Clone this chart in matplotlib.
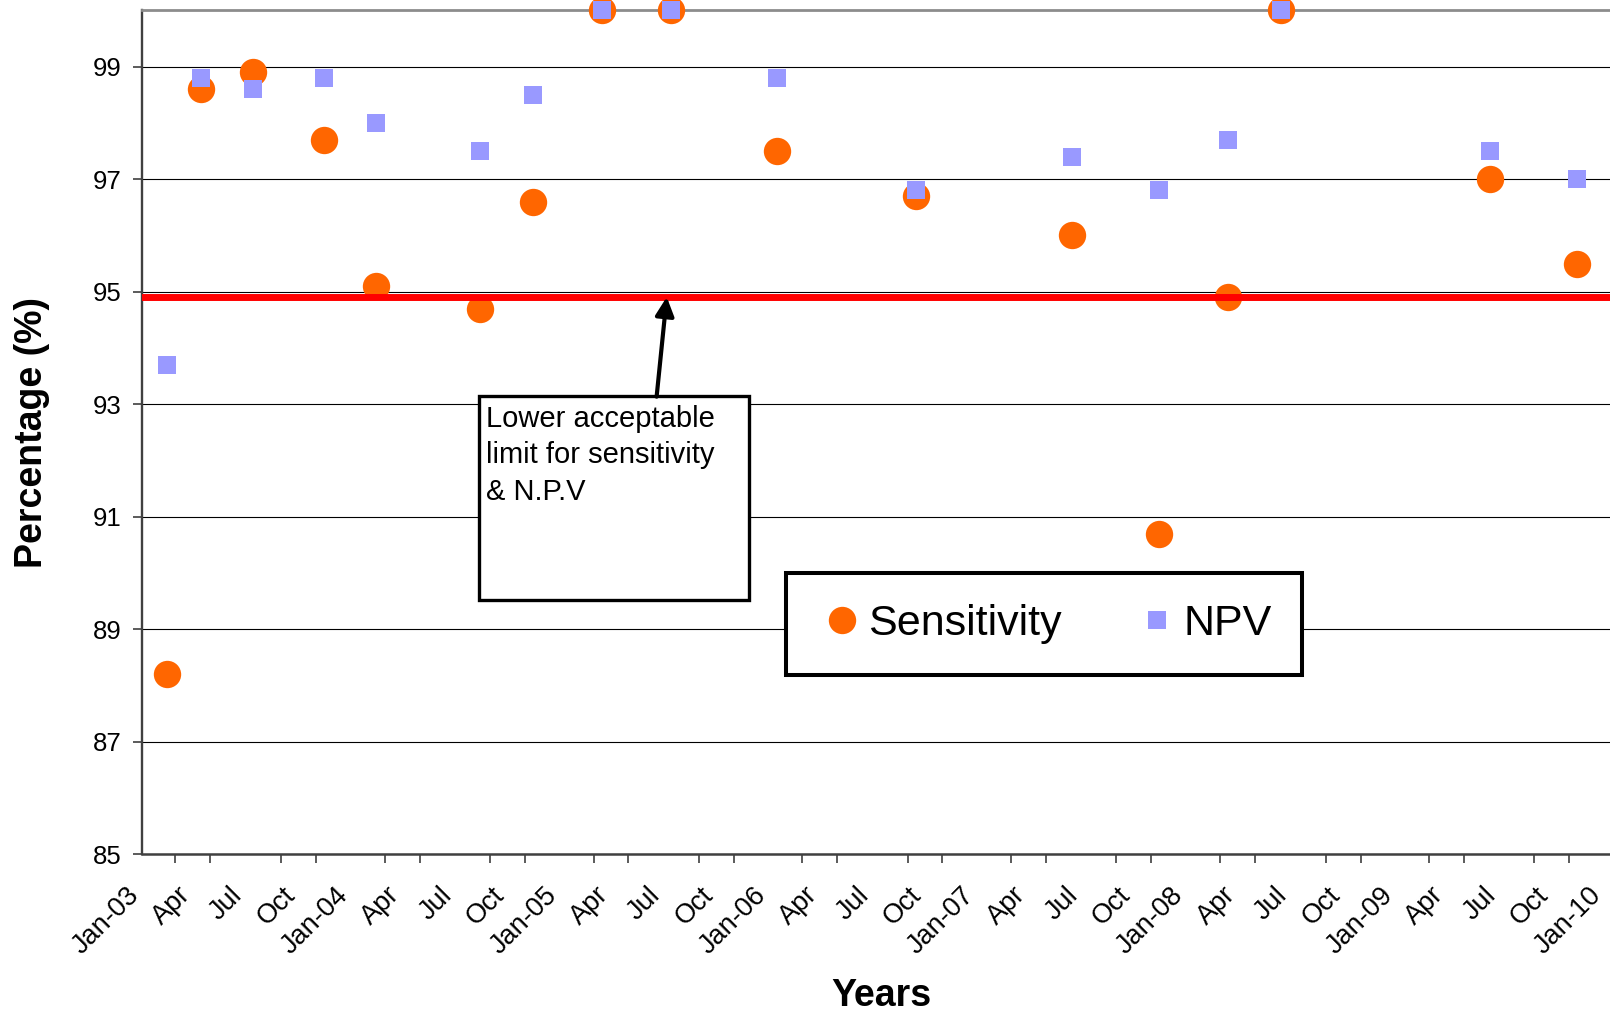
import datetime as dt

import matplotlib
matplotlib.use('Agg')
import matplotlib.dates as mdates
import matplotlib.transforms as mtransforms
from matplotlib import pyplot as plt
from matplotlib.patches import Rectangle
from matplotlib.ticker import FuncFormatter

plt.rcParams['font.family'] = ['Liberation Sans', 'DejaVu Sans']

# sampling dates (points sit around mid-month)
dates = [dt.date(2003, 2, 15), dt.date(2003, 4, 15), dt.date(2003, 7, 15), dt.date(2003, 11, 15),
         dt.date(2004, 2, 15), dt.date(2004, 8, 15), dt.date(2004, 11, 15), dt.date(2005, 3, 15),
         dt.date(2005, 7, 15), dt.date(2006, 1, 15), dt.date(2006, 9, 15), dt.date(2007, 6, 15),
         dt.date(2007, 11, 15), dt.date(2008, 3, 15), dt.date(2008, 6, 15), dt.date(2009, 6, 15),
         dt.date(2009, 11, 15)]
sensitivity = [88.2, 98.6, 98.9, 97.7, 95.1, 94.7, 96.6, 100, 100, 97.5, 96.7, 96.0, 90.7, 94.9, 100, 97.0, 95.5]
npv = [93.7, 98.8, 98.6, 98.8, 98.0, 97.5, 98.5, 100, 100, 98.8, 96.8, 97.4, 96.8, 97.7, 100, 97.5, 97.0]
lower_limit = 94.9
y_ticks = [85, 87, 89, 91, 93, 95, 97, 99]
month_names = {1: 'Jan', 4: 'Apr', 7: 'Jul', 10: 'Oct'}
note_text = 'Lower acceptable\nlimit for sensitivity\n& N.P.V'


def date_label(x, pos):
    d = mdates.num2date(x)
    if d.month == 1:
        return 'Jan-%s' % d.strftime('%y')
    return month_names.get(d.month, '')


fig = plt.figure(figsize=(16.1, 10.13), dpi=100)
ax = fig.add_axes([0.088, 0.1567, 0.912, 0.8331])

ax.plot(dates, sensitivity, 'o', color='#FF6600', ms=19.7, mew=0, label='Sensitivity', clip_on=False, zorder=3)
ax.plot(dates, npv, 's', color='#9999FF', ms=13, mew=0, label='NPV', clip_on=False, zorder=3)
ax.axhline(lower_limit, color='red', lw=5, zorder=4)

ax.set_xlim(dt.date(2003, 1, 1), dt.date(2010, 1, 11))
ax.set_ylim(85, 100)
ax.set_yticks(y_ticks)
ax.grid(axis='y', color='black', lw=0.8)
ax.set_axisbelow(True)

ax.xaxis.set_major_locator(mdates.MonthLocator(bymonth=[1, 4, 7, 10]))
ax.xaxis.set_minor_locator(mdates.MonthLocator(bymonth=[1, 3, 5, 7, 9, 11]))
ax.xaxis.set_major_formatter(FuncFormatter(date_label))
ax.tick_params(axis='x', which='major', length=0, pad=20, labelsize=19.5)
ax.tick_params(axis='x', which='minor', length=6.5, width=1.2, color='#404040')
ax.tick_params(axis='y', length=6.5, width=1.2, color='#404040', pad=8, labelsize=18.5)
shift = mtransforms.ScaledTranslation(-0.16, 0, fig.dpi_scale_trans)
for lbl in ax.get_xticklabels():
    lbl.set_rotation(45)
    lbl.set_ha('right')
    lbl.set_va('top')
    lbl.set_rotation_mode('anchor')
    lbl.set_transform(lbl.get_transform() + shift)

ax.spines['right'].set_visible(False)
ax.spines['top'].set_color('#8c8c8c')
ax.spines['top'].set_linewidth(2)
ax.spines['left'].set_color('#404040')
ax.spines['left'].set_linewidth(1.7)
ax.spines['bottom'].set_color('#404040')
ax.spines['bottom'].set_linewidth(1.8)

ax.set_xlabel('Years', fontsize=27, fontweight='bold')
ax.set_ylabel('Percentage (%)', fontsize=27, fontweight='bold')
ax.xaxis.set_label_coords(0.5035, -0.147)
ax.yaxis.set_label_coords(-0.0625, 0.5)

# note box + arrow to the limit line
ax.add_patch(Rectangle((0.2294, 0.3017), 0.1839, 0.241, transform=ax.transAxes,
                       facecolor='white', edgecolor='black', lw=2.4, zorder=5))
ax.text(0.2342, 0.532, note_text, transform=ax.transAxes, fontsize=21, va='top', ha='left',
        linespacing=1.37, zorder=6)
ax.annotate('', xy=(0.3576, 0.6603), xycoords='axes fraction', xytext=(0.3507, 0.5422),
            textcoords='axes fraction',
            arrowprops=dict(arrowstyle='-|>', color='black', lw=3, mutation_scale=28,
                            shrinkA=0, shrinkB=0), zorder=6)

leg = ax.legend(loc='upper left', bbox_to_anchor=(0.4385, 0.333), ncol=2, fontsize=31,
                borderaxespad=0, borderpad=0.72, handlelength=1.2, handletextpad=0.0,
                columnspacing=1.62, fancybox=False, framealpha=1)
leg.get_frame().set_edgecolor('black')
leg.get_frame().set_linewidth(2.9)
leg.set_zorder(7)

fig.savefig('out.png', dpi=100)
